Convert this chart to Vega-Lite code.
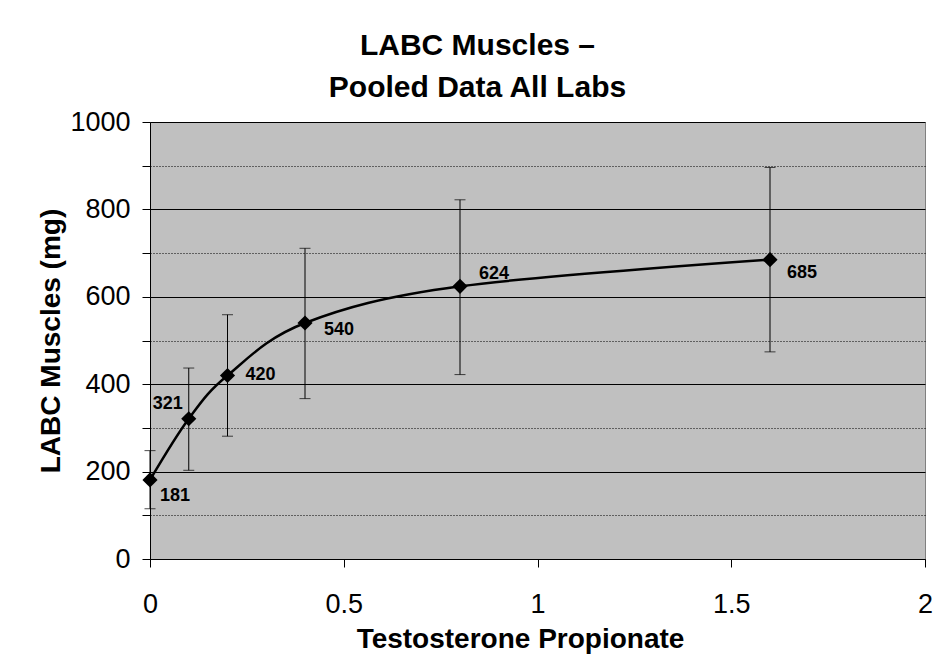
{
  "$schema": "https://vega.github.io/schema/vega-lite/v6.json",
  "width": 775,
  "height": 437,
  "autosize": "none",
  "padding": {"left": 150, "top": 122, "right": 26, "bottom": 105},
  "background": "white",
  "config": {
    "font": "Liberation Sans",
    "view": {"fill": "#c0c0c0", "stroke": "#808080", "strokeWidth": 1},
    "axis": {"labelFont": "Liberation Sans", "titleFont": "Liberation Sans", "labelColor": "black", "titleColor": "black", "domainColor": "black", "tickColor": "black"}
  },
  "title": {
    "text": ["LABC Muscles –", "Pooled Data All Labs"],
    "font": "Liberation Sans",
    "fontSize": 30,
    "fontWeight": "bold",
    "color": "black",
    "lineHeight": 42,
    "anchor": "middle",
    "dx": -60,
    "offset": 5
  },
  "data": {
    "values": [
      {"dose": 0, "mass": 181, "lo": 115, "hi": 248},
      {"dose": 0.1, "mass": 321, "lo": 203, "hi": 437},
      {"dose": 0.2, "mass": 420, "lo": 281, "hi": 559},
      {"dose": 0.4, "mass": 540, "lo": 367, "hi": 711},
      {"dose": 0.8, "mass": 624, "lo": 422, "hi": 822},
      {"dose": 1.6, "mass": 685, "lo": 474, "hi": 896}
    ]
  },
  "layer": [
    {
      "mark": {"type": "rule", "color": "black", "strokeWidth": 1},
      "encoding": {
        "x": {"field": "dose", "type": "quantitative", "scale": {"domain": [0, 2]},
          "axis": {"title": "Testosterone Propionate", "values": [0, 0.5, 1, 1.5, 2], "format": "~g", "grid": false, "tickSize": 8, "labelFontSize": 27, "labelPadding": 24, "titleFontSize": 28, "titleFontWeight": "bold", "titlePadding": 8, "titleX": 370, "labelFlush": false}},
        "y": {"field": "lo", "type": "quantitative", "scale": {"domain": [0, 1000]},
          "axis": {"title": "LABC Muscles (mg)", "values": [0, 100, 200, 300, 400, 500, 600, 700, 800, 900, 1000], "format": "d",
            "labelExpr": "datum.value % 200 == 0 ? datum.label : ''",
            "grid": true, "gridColor": "black", "gridWidth": 1, "gridOpacity": 1,
            "gridDash": {"condition": {"test": "datum.value % 200 != 0", "value": [1, 2]}, "value": []},
            "tickSize": 8, "labelFontSize": 27, "labelPadding": 12, "titleFontSize": 28, "titleFontWeight": "bold", "titlePadding": 4}},
        "y2": {"field": "hi"}
      }
    },
    {
      "mark": {"type": "tick", "orient": "horizontal", "color": "black", "size": 11, "thickness": 1},
      "encoding": {
        "x": {"field": "dose", "type": "quantitative"},
        "y": {"field": "lo", "type": "quantitative"}
      }
    },
    {
      "mark": {"type": "tick", "orient": "horizontal", "color": "black", "size": 11, "thickness": 1},
      "encoding": {
        "x": {"field": "dose", "type": "quantitative"},
        "y": {"field": "hi", "type": "quantitative"}
      }
    },
    {
      "mark": {"type": "line", "color": "black", "strokeWidth": 2.5, "interpolate": "cardinal"},
      "encoding": {
        "x": {"field": "dose", "type": "quantitative"},
        "y": {"field": "mass", "type": "quantitative"}
      }
    },
    {
      "mark": {"type": "point", "shape": "diamond", "filled": true, "color": "black", "size": 230, "opacity": 1},
      "encoding": {
        "x": {"field": "dose", "type": "quantitative"},
        "y": {"field": "mass", "type": "quantitative"}
      }
    },
    {
      "transform": [{"filter": "datum.mass == 181"}],
      "mark": {"type": "text", "font": "Liberation Sans", "fontWeight": "bold", "fontSize": 18, "color": "black", "dx": 25, "dy": 16},
      "encoding": {"x": {"field": "dose", "type": "quantitative"}, "y": {"field": "mass", "type": "quantitative"}, "text": {"field": "mass"}}
    },
    {
      "transform": [{"filter": "datum.mass == 321"}],
      "mark": {"type": "text", "font": "Liberation Sans", "fontWeight": "bold", "fontSize": 18, "color": "black", "dx": -21, "dy": -15},
      "encoding": {"x": {"field": "dose", "type": "quantitative"}, "y": {"field": "mass", "type": "quantitative"}, "text": {"field": "mass"}}
    },
    {
      "transform": [{"filter": "datum.mass == 420"}],
      "mark": {"type": "text", "font": "Liberation Sans", "fontWeight": "bold", "fontSize": 18, "color": "black", "dx": 33, "dy": 0},
      "encoding": {"x": {"field": "dose", "type": "quantitative"}, "y": {"field": "mass", "type": "quantitative"}, "text": {"field": "mass"}}
    },
    {
      "transform": [{"filter": "datum.mass == 540"}],
      "mark": {"type": "text", "font": "Liberation Sans", "fontWeight": "bold", "fontSize": 18, "color": "black", "dx": 34, "dy": 7},
      "encoding": {"x": {"field": "dose", "type": "quantitative"}, "y": {"field": "mass", "type": "quantitative"}, "text": {"field": "mass"}}
    },
    {
      "transform": [{"filter": "datum.mass == 624"}],
      "mark": {"type": "text", "font": "Liberation Sans", "fontWeight": "bold", "fontSize": 18, "color": "black", "dx": 34, "dy": -12},
      "encoding": {"x": {"field": "dose", "type": "quantitative"}, "y": {"field": "mass", "type": "quantitative"}, "text": {"field": "mass"}}
    },
    {
      "transform": [{"filter": "datum.mass == 685"}],
      "mark": {"type": "text", "font": "Liberation Sans", "fontWeight": "bold", "fontSize": 18, "color": "black", "dx": 32, "dy": 13},
      "encoding": {"x": {"field": "dose", "type": "quantitative"}, "y": {"field": "mass", "type": "quantitative"}, "text": {"field": "mass"}}
    }
  ]
}
